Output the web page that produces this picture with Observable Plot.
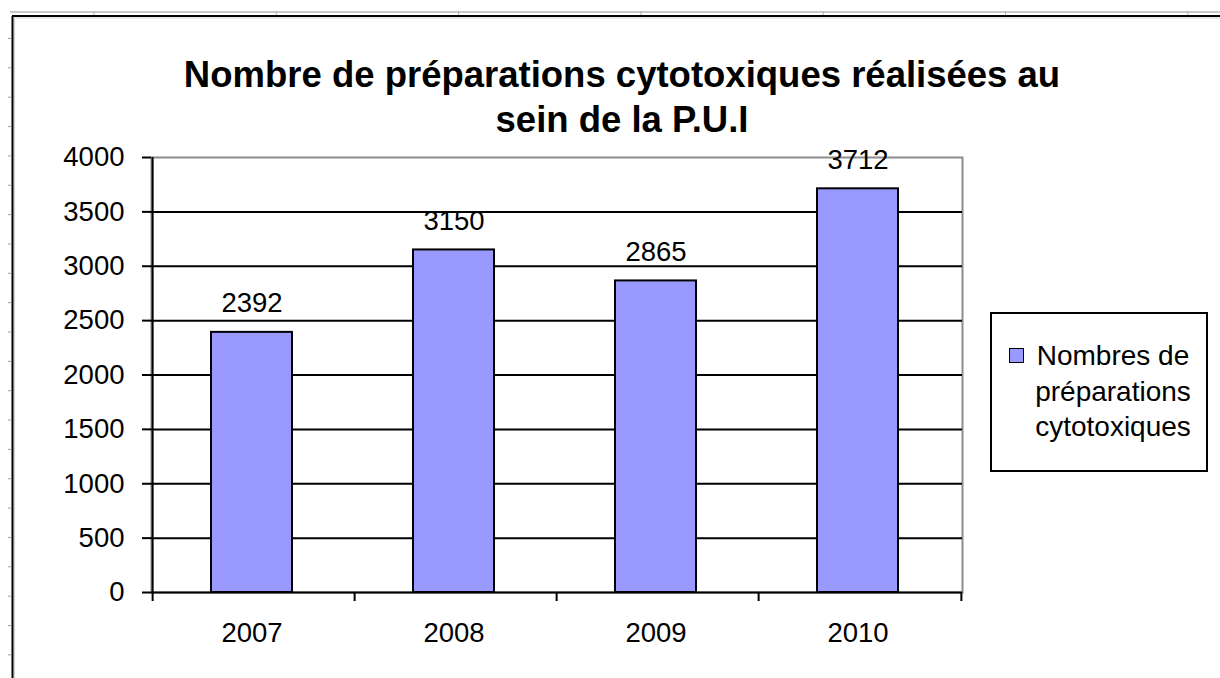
<!DOCTYPE html>
<html>
<head>
<meta charset="utf-8">
<script src="https://cdn.jsdelivr.net/npm/d3@7"></script>
<script src="https://cdn.jsdelivr.net/npm/@observablehq/plot@0.6"></script>
<style>
  html, body { margin: 0; padding: 0; background: #fff; }
  #wrap { position: relative; width: 1220px; height: 678px; overflow: hidden; font-family: "Liberation Sans", Arial, sans-serif; color: #000; }
  #wrap > svg.plot { position: absolute; left: 0; top: 0; }
  #deco { position: absolute; left: 0; top: 0; }
  #title { position: absolute; left: 0; width: 1244px; top: 52px; text-align: center; font-weight: bold; font-size: 36.5px; line-height: 45px; }
  #legend { position: absolute; left: 990px; top: 312px; width: 218px; height: 160px; border: 2px solid #000; box-sizing: border-box; }
  #legend .sw { position: absolute; left: 17px; top: 34px; width: 13px; height: 13px; background: #9999FF; border: 1.5px solid #000; }
  #legend .tx { position: absolute; left: 33px; top: 24px; width: 176px; text-align: center; font-size: 28px; line-height: 35.5px; }
</style>
</head>
<body>
<div id="wrap">
  <div id="title">Nombre de préparations cytotoxiques réalisées au<br>sein de la P.U.I</div>
  <div id="legend"><div class="sw"></div><div class="tx">Nombres de préparations cytotoxiques</div></div>
</div>
<script>
const years = ["2007", "2008", "2009", "2010"];
const counts = [2392, 3150, 2865, 3712];
const yTicks = [0, 500, 1000, 1500, 2000, 2500, 3000, 3500, 4000];
const seriesName = "Nombres de préparations cytotoxiques";

const data = years.map((y, i) => ({year: y, value: counts[i]}));

const W = 1220, H = 678;
const mL = 151, mR = 258, mT = 157, mB = 86;
const step = (W - mL - mR) / years.length;

const chart = Plot.plot({
  width: W,
  height: H,
  marginLeft: mL,
  marginRight: mR,
  marginTop: mT,
  marginBottom: mB,
  style: {fontFamily: "'Liberation Sans', Arial, sans-serif", color: "#000", background: "transparent"},
  x: {domain: years, paddingInner: 0.6, paddingOuter: 0.3, label: null},
  y: {domain: [0, 4000], label: null},
  marks: [
    Plot.frame({stroke: "#8c8c8c", strokeWidth: 2}),
    Plot.ruleY(yTicks.filter(d => d > 0 && d < 4000), {stroke: "#000", strokeWidth: 2}),
    Plot.barY(data, {x: "year", y: "value", fill: "#9999FF", stroke: "#000", strokeWidth: 2, dx: -2}),
    Plot.text(data, {x: "year", y: "value", text: d => String(d.value), dy: -20, dx: -2, lineAnchor: "bottom", fontSize: 27.5, fill: "#000"}),
    Plot.axisY({ticks: yTicks, tickFormat: d => String(d), tickSize: 9, tickPadding: 18, fontSize: 27.5, stroke: "#000", strokeWidth: 2, label: null}),
    Plot.axisX({tickSize: 0, tickPadding: 30, fontSize: 27.5, label: null, dx: -2}),
    Plot.ruleX(years, {x: d => d, y1: 0, y2: 0, dx: -step / 2, insetBottom: -9, stroke: "#000", strokeWidth: 2}),
    Plot.ruleX([years[years.length - 1]], {x: d => d, y1: 0, y2: 0, dx: step / 2, insetBottom: -9, stroke: "#000", strokeWidth: 2}),
    Plot.ruleX([years[0]], {x: d => d, y1: 0, y2: 4000, dx: -step / 2, stroke: "#000", strokeWidth: 2}),
    Plot.ruleY([0], {stroke: "#000", strokeWidth: 2})
  ]
});
chart.classList.add("plot");
document.getElementById("wrap").insertBefore(chart, document.getElementById("title"));

// spreadsheet background decorations (cell grid edges around chart object)
const ns = "http://www.w3.org/2000/svg";
const deco = document.createElementNS(ns, "svg");
deco.setAttribute("id", "deco");
deco.setAttribute("width", W);
deco.setAttribute("height", H);
function line(x1, y1, x2, y2, stroke, sw) {
  const l = document.createElementNS(ns, "line");
  l.setAttribute("x1", x1); l.setAttribute("y1", y1);
  l.setAttribute("x2", x2); l.setAttribute("y2", y2);
  l.setAttribute("stroke", stroke); l.setAttribute("stroke-width", sw);
  deco.appendChild(l);
}
line(10, 12, W, 12, "#c8c8c8", 2);
for (let x = 94; x < W; x += 182.3) line(x, 11, x, 15, "#b0b0b0", 1);
for (let y = 38.5; y < H; y += 29.35) line(8, y, 11, y, "#a0a0a0", 1);
line(12, 16, W, 16, "#000", 2);
line(12.5, 16, 12.5, H, "#000", 2);
line(14, 18, W, 18, "#d0d0d0", 1);
line(14.5, 18, 14.5, H, "#d0d0d0", 1);
document.getElementById("wrap").appendChild(deco);
</script>
</body>
</html>
